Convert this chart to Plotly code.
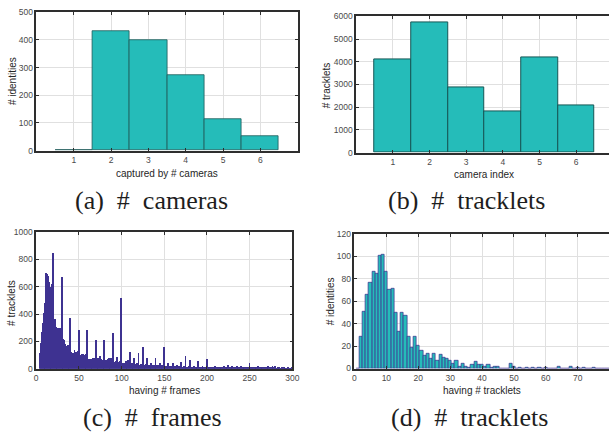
import plotly.graph_objects as go

W, H = 616, 438

# ---------------- data ----------------
cam_counts = [1, 2, 3, 4, 5, 6]
ids_by_cams = [0, 430, 399, 274, 114, 51]

cam_index = [1, 2, 3, 4, 5, 6]
tracklets_per_cam = [4120, 5756, 2856, 1794, 4206, 2081]

frame_bins = list(range(1, 301))
tracklets_by_frames = [
    0, 0, 0, 0, 117, 188, 272, 338, 410, 470,
    480, 700, 690, 680, 636, 600, 564, 552, 620, 850,
    207, 362, 307, 278, 267, 298, 300, 290, 300, 670,
    100, 215, 210, 183, 165, 170, 172, 150, 136, 374,
    120, 112, 118, 100, 136, 110, 124, 100, 130, 286,
    50, 95, 100, 105, 110, 90, 100, 70, 105, 283,
    40, 72, 74, 72, 75, 74, 76, 80, 78, 207,
    40, 76, 78, 60, 95, 70, 65, 40, 60, 207,
    35, 64, 66, 70, 80, 62, 60, 78, 70, 265,
    30, 52, 55, 50, 88, 52, 48, 60, 45, 515,
    25, 40, 45, 35, 60, 40, 38, 64, 40, 124,
    20, 40, 40, 35, 76, 30, 35, 45, 38, 117,
    20, 30, 35, 38, 160, 28, 30, 25, 35, 76,
    20, 28, 25, 40, 40, 25, 30, 22, 30, 81,
    18, 25, 22, 30, 40, 22, 25, 20, 28, 160,
    15, 20, 22, 18, 40, 18, 20, 15, 22, 45,
    12, 18, 20, 15, 29, 15, 18, 12, 20, 52,
    12, 15, 18, 20, 93, 12, 15, 10, 18, 64,
    10, 12, 15, 12, 21, 10, 12, 8, 15, 57,
    8, 12, 10, 12, 21, 10, 8, 12, 10, 74,
    8, 10, 12, 8, 15, 10, 8, 12, 10, 21,
    8, 10, 8, 12, 15, 8, 10, 8, 12, 18,
    6, 10, 8, 10, 29, 8, 6, 10, 8, 21,
    6, 8, 10, 6, 17, 8, 6, 8, 6, 17,
    5, 8, 6, 8, 12, 6, 8, 5, 8, 45,
    5, 6, 8, 5, 10, 6, 5, 8, 6, 17,
    4, 6, 5, 6, 10, 5, 6, 4, 6, 12,
    4, 17, 5, 6, 15, 5, 17, 4, 6, 17,
    3, 5, 6, 4, 10, 5, 4, 6, 3, 8,
    3, 4, 5, 3, 8, 4, 3, 5, 3, 6,
]

tracklet_bins = list(range(1, 81))
ids_by_tracklets = [
    0, 28, 51, 66, 76, 86, 84, 100, 101, 86,
    70, 71, 50, 33, 50, 47, 28, 19, 28, 20,
    16, 11, 13, 9, 13, 7, 12, 10, 9, 7,
    4, 7, 2, 4, 2, 1, 3, 6, 3, 3,
    2, 3, 1, 2, 2, 0, 0, 0, 4, 2,
    0, 1, 0, 1, 0, 1, 0, 1, 0, 1,
    0, 0, 0, 2, 0, 0, 0, 2, 0, 1,
    0, 1, 0, 0, 1, 0, 0, 0, 0, 0,
]

captions = ["(a)\u00a0 #\u00a0 cameras", "(b)\u00a0 #\u00a0 tracklets",
            "(c)\u00a0 #\u00a0 frames", "(d)\u00a0 #\u00a0 tracklets"]

# ---------------- styling ----------------
TEAL = "#25BCB9"
PURPLE = "#3E3291"
FRAME = "#2E2E2E"
GRID = "#E0E0E0"
TICKFONT = dict(family="Liberation Sans, Arial, sans-serif", size=8.5, color="#4A4A4A")
TITLEFONT = dict(family="Liberation Sans, Arial, sans-serif", size=10, color="#262626")
CAPFONT = dict(family="Liberation Serif, Times New Roman, serif", size=26, color="#1E1E1E")


def px_x(p):
    return p / W


def px_y(p):
    return 1 - p / H


fig = go.Figure()

fig.add_trace(go.Bar(x=cam_counts, y=ids_by_cams, width=1,
                     marker=dict(color=TEAL, line=dict(color="#1E5A59", width=0.8)),
                     xaxis="x", yaxis="y"))
fig.add_trace(go.Bar(x=cam_index, y=tracklets_per_cam, width=1,
                     marker=dict(color=TEAL, line=dict(color="#155756", width=1)),
                     xaxis="x2", yaxis="y2"))
fig.add_trace(go.Bar(x=frame_bins, y=tracklets_by_frames, width=1,
                     marker=dict(color=PURPLE, line=dict(width=0)),
                     xaxis="x3", yaxis="y3"))
fig.add_trace(go.Bar(x=tracklet_bins, y=ids_by_tracklets, width=1,
                     marker=dict(color=TEAL, line=dict(color="#3B2A8C", width=0.7)),
                     xaxis="x4", yaxis="y4"))


def xax(domain, rng, tickvals, mirror, anchor):
    return dict(domain=domain, range=rng, tickvals=tickvals, showline=True, linecolor=FRAME,
                linewidth=1.7, mirror=mirror, ticks="inside", ticklen=3, tickcolor=FRAME,
                showgrid=True, gridcolor=GRID, gridwidth=1, zeroline=False,
                tickfont=TICKFONT, anchor=anchor, fixedrange=True)


def yax(domain, rng, dtick, mirror, anchor):
    return dict(domain=domain, range=rng, dtick=dtick, tick0=0, showline=True, linecolor=FRAME,
                linewidth=1.7, mirror=mirror, ticks="inside", ticklen=3, tickcolor=FRAME,
                showgrid=True, gridcolor=GRID, gridwidth=1, zeroline=False,
                tickfont=TICKFONT, anchor=anchor, tickformat="d", fixedrange=True)


# pixel boxes of the four panels (left, right, top, bottom)
A = (35, 300, 7.3, 149)
B = (359.5, 616, 11.7, 151)
C = (34.7, 294.7, 232.3, 372.3)
D = (357.7, 616, 234, 372)

fig.update_layout(
    width=W, height=H, margin=dict(l=0, r=0, t=0, b=0), autosize=False,
    paper_bgcolor="white", plot_bgcolor="white", showlegend=False, bargap=0,
    xaxis=xax([px_x(A[0]), px_x(A[1])], [0, 7], [1, 2, 3, 4, 5, 6], "ticks", "y"),
    yaxis=yax([px_y(A[3]), px_y(A[2])], [0, 500], 100, "ticks", "x"),
    xaxis2=xax([px_x(B[0]), px_x(B[1])], [0, 6.895], [1, 2, 3, 4, 5, 6], "ticks", "y2"),
    yaxis2=yax([px_y(B[3]), px_y(B[2])], [0, 6000], 1000, False, "x2"),
    xaxis3=xax([px_x(C[0]), px_x(C[1])], [0, 300], [0, 50, 100, 150, 200, 250, 300], "ticks", "y3"),
    yaxis3=yax([px_y(C[3]), px_y(C[2])], [0, 1000], 200, "ticks", "x3"),
    xaxis4=xax([px_x(D[0]), px_x(D[1])], [0, 79.8], [0, 10, 20, 30, 40, 50, 60, 70, 80], "ticks", "y4"),
    yaxis4=yax([px_y(D[3]), px_y(D[2])], [0, 120], 20, False, "x4"),
)

# axis titles
ann = []
xtitles = [("captured by # cameras", 167.5, 172), ("camera index", 489, 173),
           ("having # frames", 164.7, 394), ("having # tracklets", 487, 394)]
for t, x, y in xtitles:
    ann.append(dict(text=t, x=px_x(x), y=px_y(y), xref="paper", yref="paper",
                    showarrow=False, font=TITLEFONT, xanchor="center", yanchor="middle"))
ytitles = [("# identities", 10, 78), ("# tracklets", 329, 82),
           ("# tracklets", 9, 305), ("# identities", 333, 303)]
for t, x, y in ytitles:
    ann.append(dict(text=t, x=px_x(x), y=px_y(y), xref="paper", yref="paper", textangle=-90,
                    showarrow=False, font=TITLEFONT, xanchor="center", yanchor="middle"))
cap_pos = [(152, 200), (471, 200), (153, 422), (474, 422)]
for t, (x, y) in zip(captions, cap_pos):
    ann.append(dict(text=t, x=px_x(x), y=px_y(y), xref="paper", yref="paper",
                    showarrow=False, font=CAPFONT, xanchor="center", yanchor="middle"))
fig.update_layout(annotations=ann)

fig.write_html(
    "out.html",
    config={"displayModeBar": False, "responsive": False},
    post_script=(
        "document.documentElement.style.margin='0';"
        "document.documentElement.style.overflow='hidden';"
        "document.body.style.margin='0';document.body.style.padding='0';"
        "document.body.style.overflow='hidden';"
        "var d=document.getElementById('{plot_id}');d.style.overflow='hidden';"
    ),
)
